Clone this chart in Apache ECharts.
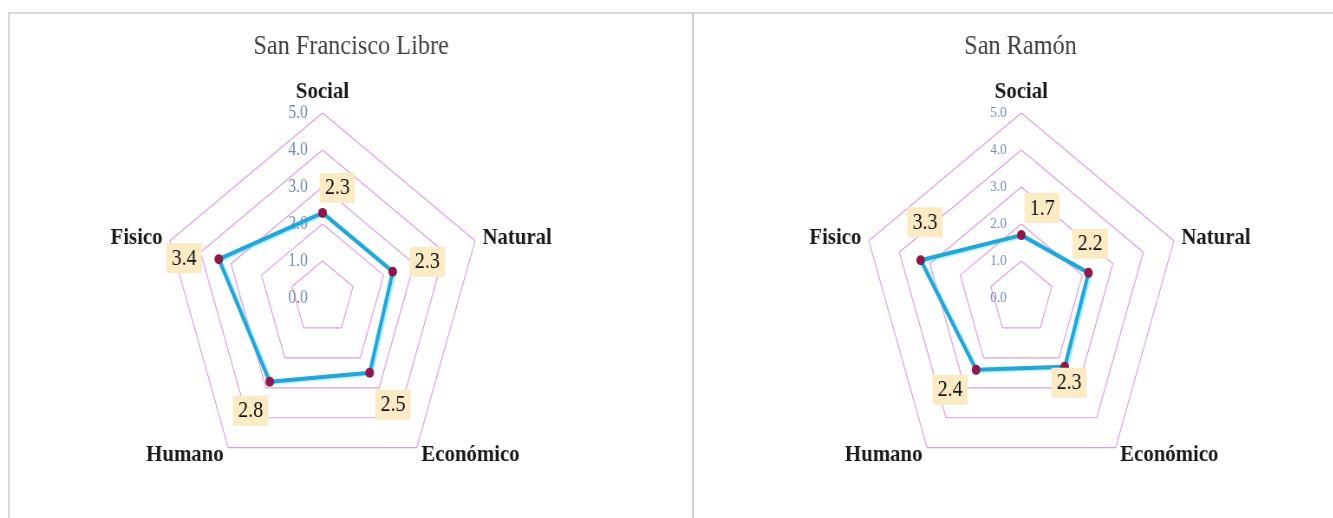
<!DOCTYPE html>
<html>
<head>
<meta charset="utf-8">
<script src="https://cdn.jsdelivr.net/npm/echarts@6/dist/echarts.min.js"></script>
<style>
  html, body { margin: 0; padding: 0; background: #fff; overflow: hidden; }
  /* the source picture is squeezed sideways, so the chart is drawn wide and squeezed back */
  #main { position: absolute; left: 0; top: 0; width: 1538px; height: 518px; transform: scaleX(0.867); transform-origin: 0 0; }
  .rule { position: absolute; background: #d8d8d8; z-index: 5; }
</style>
</head>
<body>
<div id="main"></div>
<div class="rule" style="left:8px;top:12px;width:1325px;height:2px;"></div>
<div class="rule" style="left:8px;top:12px;width:2px;height:506px;"></div>
<div class="rule" style="left:692px;top:12px;width:2px;height:506px;background:#cfcfcf;"></div>
<script>
// categorias en sentido horario desde arriba
const categories = ['Social', 'Natural', 'Económico', 'Humano', 'Fisico']
const sanFranciscoLibre = [2.3, 2.3, 2.5, 2.8, 3.4]
const sanRamon = [1.7, 2.2, 2.3, 2.4, 3.3]
const titles = ['San Francisco Libre', 'San Ramón']
const axisMax = 5

// echarts reparte los ejes en sentido antihorario
const order = [0, 4, 3, 2, 1]

// desplazamiento de cada etiqueta respecto a su punto (mismo orden que categories)
const labelOffsets = [
    [[17, -25], [40, -10], [27, 32], [-22, 29], [-40, -1]],
    [[24, -27], [2, -29], [5, 16], [-30, 20], [5, -38]]
]

const panels = [
    { values: sanFranciscoLibre, cx: 372, titleX: 400, tickSize: 18 },
    { values: sanRamon, cx: 1178, titleX: 1172, tickSize: 15 }
]

const chart = echarts.init(document.getElementById('main'))

const radars = panels.map((p) => {
    return {
        center: [p.cx, 298],
        radius: 185,
        startAngle: 90,
        shape: 'polygon',
        splitNumber: 5,
        indicator: order.map((i, n) => {
            const ind = { name: categories[i], min: 0, max: axisMax }
            if (n === 0) {
                ind.axisLabel = {
                    show: true,
                    color: '#7489b0',
                    fontSize: p.tickSize,
                    fontFamily: 'Liberation Serif',
                    margin: 17,
                    formatter: (v) => Number(v).toFixed(1)
                }
            }
            return ind
        }),
        nameGap: 9,
        axisName: {
            color: '#1a1a1a',
            fontFamily: 'Liberation Serif',
            fontWeight: 'bold',
            fontSize: 24
        },
        splitLine: { lineStyle: { color: '#df9fe2', width: 1.2 } },
        splitArea: { show: false },
        axisLine: { show: false },
        axisTick: { show: false },
        axisLabel: { show: false }
    }
})

const series = panels.map((p, r) => {
    // la linea y los puntos
    const data = [{
        value: order.map((i) => p.values[i]),
        symbol: 'circle',
        symbolSize: 10,
        itemStyle: { color: '#8b1a4b' },
        lineStyle: {
            color: '#27a3d5',
            width: 4,
            shadowColor: 'rgba(70,230,255,0.6)',
            shadowBlur: 2,
            shadowOffsetX: 2,
            shadowOffsetY: 1
        }
    }]
    // una etiqueta por punto, cada una con su propia posicion
    categories.forEach((c, k) => {
        data.push({
            value: order.map((i) => (i === k ? p.values[i] : '-')),
            symbol: 'circle',
            symbolSize: 1,
            lineStyle: { opacity: 0 },
            itemStyle: { color: 'rgba(0,0,0,0)', borderWidth: 0 },
            label: {
                show: true,
                opacity: 1,
                position: 'inside',
                offset: labelOffsets[r][k],
                formatter: (prm) => {
                    const v = prm.value
                    return (typeof v === 'number' && !isNaN(v)) ? '{b|' + v.toFixed(1) + '}' : ''
                },
                rich: {
                    b: {
                        backgroundColor: '#fbebc4',
                        padding: [4, 6, 3, 6],
                        fontSize: 23,
                        fontFamily: 'Liberation Serif',
                        color: '#111'
                    }
                }
            }
        })
    })
    return {
        type: 'radar',
        radarIndex: r,
        silent: true,
        animation: false,
        data: data
    }
})

chart.setOption({
    backgroundColor: '#fff',
    animation: false,
    title: panels.map((p, r) => {
        return {
            text: titles[r],
            left: p.titleX,
            top: 28,
            textAlign: 'center',
            textStyle: {
                color: '#404040',
                fontFamily: 'Liberation Serif',
                fontWeight: 'normal',
                fontSize: 28
            }
        }
    }),
    radar: radars,
    series: series
})
</script>
</body>
</html>
